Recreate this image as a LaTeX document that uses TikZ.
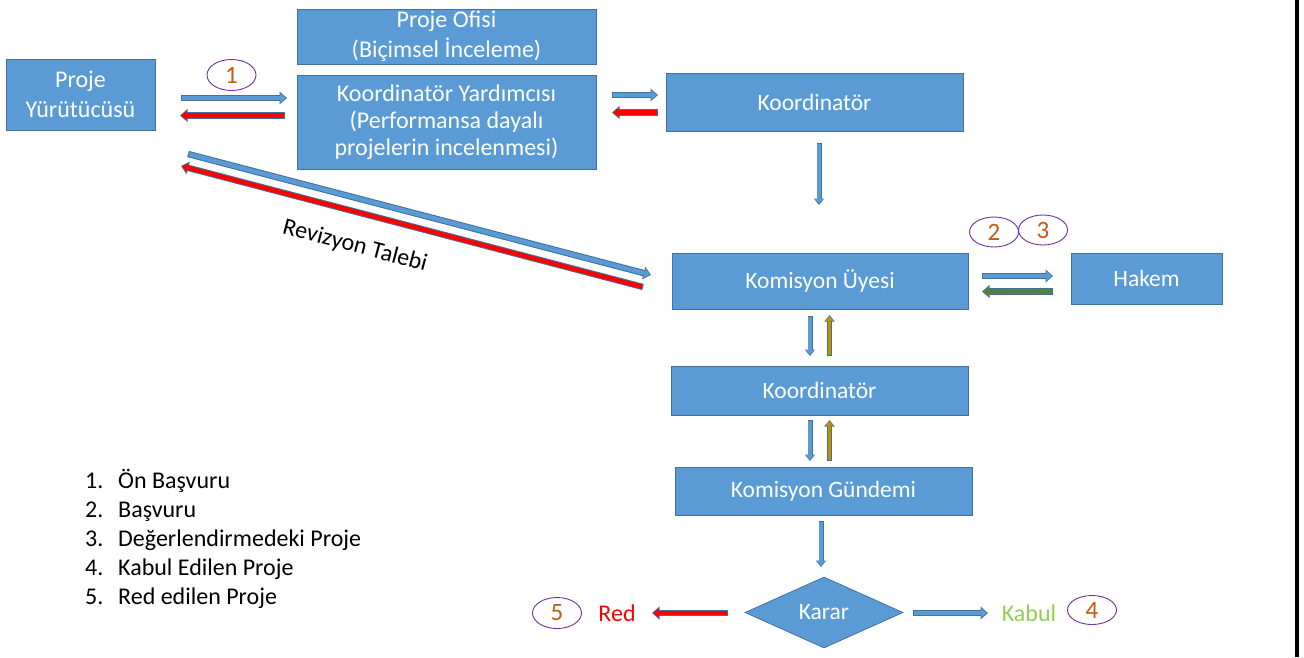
\documentclass[tikz,border=0pt]{standalone}
\usepackage{fontspec}
\setmainfont{Carlito}
\usetikzlibrary{arrows.meta,shapes.geometric,calc}
\definecolor{bfill}{HTML}{5B9BD5}
\definecolor{bline}{HTML}{41719C}
\definecolor{agreen}{HTML}{548235}
\definecolor{agold}{HTML}{BF9000}
\definecolor{purp}{HTML}{7030A0}
\definecolor{orng}{HTML}{C55A11}
\definecolor{kabulc}{HTML}{92D050}
\tikzset{
  box/.style={rectangle, draw=bline, line width=0.8pt, fill=bfill, text=white, align=center, inner sep=0pt,
    font=\fontsize{23.5}{28}\selectfont},
  ell/.style={ellipse, draw=purp, line width=0.9pt, text=orng, inner sep=0pt, minimum width=49pt, minimum height=31pt,
    font=\fontsize{25}{28}\selectfont},
  barrow/.style={line width=4.4pt, draw=#1, line cap=butt, -{Triangle[length=5.4pt,width=9.4pt]}, shorten >=1.3pt, shorten <=0.9pt,
     preaction={draw=bline, line width=6.4pt, -{Triangle[length=7.5pt,width=12.5pt]}, shorten >=0pt, shorten <=0pt}},
  varrow/.style={line width=3.2pt, draw=#1, line cap=butt, -{Triangle[length=4.6pt,width=7.4pt]}, shorten >=1.2pt, shorten <=0.8pt,
     preaction={draw=bline, line width=5pt, -{Triangle[length=6.5pt,width=10pt]}, shorten >=0pt, shorten <=0pt}},
  lst/.style={anchor=base west, inner sep=0pt, font=\fontsize{24}{28}\selectfont},
  otxt/.style={font=\fontsize{24}{28}\selectfont},
}
\begin{document}
\begin{tikzpicture}[x=1pt,y=-1pt]
\useasboundingbox (0,0) rectangle (1304,657);
\fill[white] (0,0) rectangle (1304,657);
\fill[black] (1295,0) rectangle (1299,657);

% boxes
\node[box, minimum width=149pt, minimum height=71pt, font=\fontsize{24}{30}\selectfont] (py) at (80.5,94.5) {Proje\\Yürütücüsü};
\node[box, minimum width=299pt, minimum height=55pt, font=\fontsize{24}{30}\selectfont] (po) at (446.5,36.5) {Proje Ofisi\\(Biçimsel İnceleme)};
\node[box, minimum width=299pt, minimum height=94pt, font=\fontsize{24}{27}\selectfont] (ky) at (446.5,122) {Koordinatör Yardımcısı\\(Performansa dayalı\\projelerin incelenmesi)};
\node[box, minimum width=297pt, minimum height=58pt] (k1) at (814.5,102) {Koordinatör};
\node[box, minimum width=296pt, minimum height=56pt] (ku) at (820,281) {Komisyon Üyesi};
\node[box, minimum width=151pt, minimum height=51pt] (hk) at (1146.5,278.5) {Hakem};
\node[box, minimum width=297pt, minimum height=49pt] (k2) at (819.5,390.5) {Koordinatör};
\node[box, minimum width=297pt, minimum height=48pt] (kg) at (823.5,491) {Komisyon Gündemi};
\node[box, diamond, minimum width=158pt, minimum height=71pt] (kr) at (824,612.5) {Karar};

% outcome texts
\node[otxt, text=red] (red) at (617,613) {Red};
\node[otxt, text=kabulc] (kab) at (1029,613) {Kabul};

% ellipses
\node[ell] (e1) at (231.5,75) {1};
\node[ell, minimum height=30pt] (e2) at (994,232) {2};
\node[ell, minimum height=30pt] (e3) at (1043,230) {3};
\node[ell] (e5) at (557,613) {5};
\node[ell, minimum height=29pt] (e4) at (1092,610) {4};

% arrow end coordinates
\coordinate (a1s) at (181,98);   \coordinate (a1e) at (287,98);
\coordinate (r1s) at (285,115.5); \coordinate (r1e) at (180,115.5);
\coordinate (a2s) at (612,95);   \coordinate (a2e) at (658,95);
\coordinate (r2s) at (658,112.5); \coordinate (r2e) at (612,112.5);
\coordinate (a3s) at (819,143);  \coordinate (a3e) at (819,205);
\coordinate (dbs) at (188,154);  \coordinate (dbe) at (651,275);
\coordinate (drs) at (643,287);  \coordinate (dre) at (181,166);
\coordinate (hbs) at (982,276);  \coordinate (hbe) at (1053,276);
\coordinate (hgs) at (1053,291.5); \coordinate (hge) at (982,291.5);
\coordinate (v1s) at (810,316);  \coordinate (v1e) at (810,356);
\coordinate (u1s) at (829.5,356); \coordinate (u1e) at (829.5,315);
\coordinate (v2s) at (810,420);  \coordinate (v2e) at (810,461);
\coordinate (u2s) at (829.5,461); \coordinate (u2e) at (829.5,420);
\coordinate (kgs) at (821,521);  \coordinate (kge) at (821,567);
\coordinate (krl) at (728,613);  \coordinate (rde) at (652,613);
\coordinate (krr) at (913,613);  \coordinate (kbe) at (988,613);

\draw[barrow=bfill] (a1s) -- (a1e);
\draw[barrow=red] (r1s) -- (r1e);
\draw[barrow=bfill] (a2s) -- (a2e);
\draw[barrow=red] (r2s) -- (r2e);
\draw[varrow=bfill] (a3s) -- (a3e);
\draw[barrow=bfill] (dbs) -- (dbe);
\draw[barrow=red] (drs) -- (dre);
\draw[barrow=bfill] (hbs) -- (hbe);
\draw[barrow=agreen] (hgs) -- (hge);
\draw[varrow=bfill] (v1s) -- (v1e);
\draw[varrow=agold] (u1s) -- (u1e);
\draw[varrow=bfill] (v2s) -- (v2e);
\draw[varrow=agold] (u2s) -- (u2e);
\draw[varrow=bfill] (kgs) -- (kge);
\draw[barrow=red] (krl) -- (rde);
\draw[barrow=bfill] (krr) -- (kbe);

\node[rotate=-14.8, font=\fontsize{24}{28}\selectfont] (rt) at (355,246) {Revizyon Talebi};

% list
\node[lst] (n1) at (85,488) {1.}; \node[lst] (t1) at (118,488) {Ön Başvuru};
\node[lst] (n2) at (85,517) {2.}; \node[lst] (t2) at (118,517) {Başvuru};
\node[lst] (n3) at (85,546) {3.}; \node[lst] (t3) at (118,546) {Değerlendirmedeki Proje};
\node[lst] (n4) at (85,575) {4.}; \node[lst] (t4) at (118,575) {Kabul Edilen Proje};
\node[lst] (n5) at (85,604) {5.}; \node[lst] (t5) at (118,604) {Red edilen Proje};
\end{tikzpicture}
\end{document}
